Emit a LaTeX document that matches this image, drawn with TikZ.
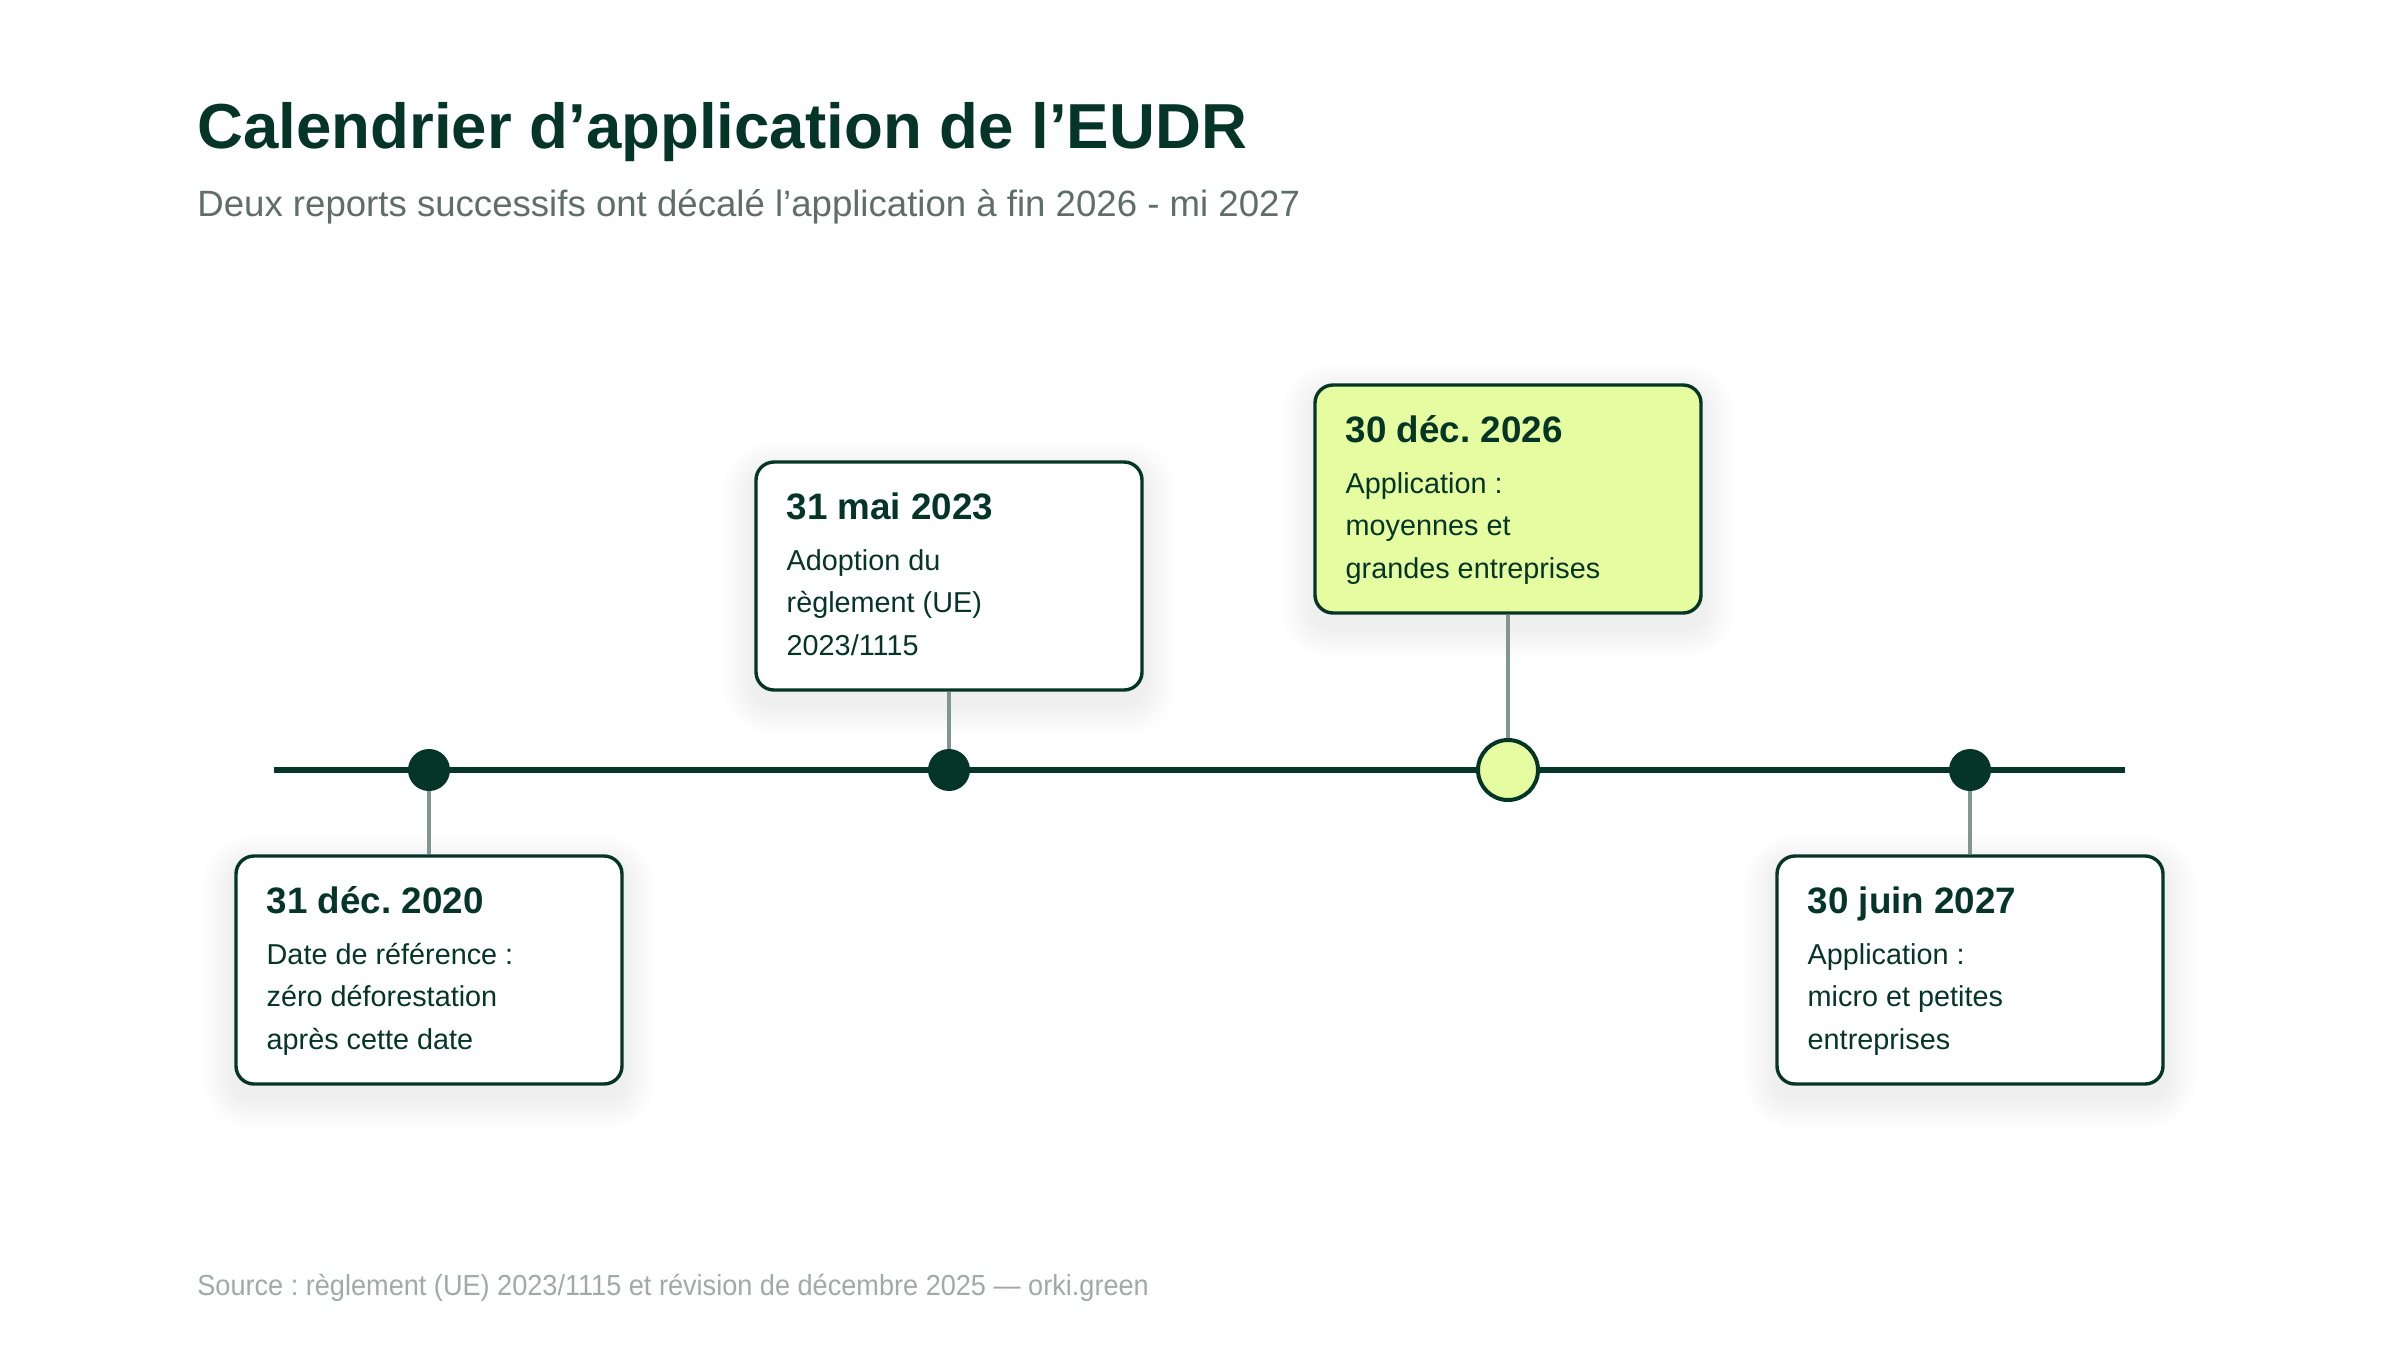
\documentclass[tikz,border=0pt]{standalone}
\usepackage{fontspec}
\setmainfont{Liberation Sans}
\newfontfamily\srcfont[FakeStretch=0.935]{Liberation Sans}
\usetikzlibrary{calc}
\definecolor{ink}{HTML}{053526}
\definecolor{lime}{HTML}{E5FCA0}
\definecolor{stem}{HTML}{7F9691}
\definecolor{subgray}{HTML}{5F6E69}
\definecolor{srcgray}{HTML}{A0AAA6}
\pgfdeclarelayer{paperlayer}
\pgfdeclarelayer{shadowlayer}
\pgfsetlayers{paperlayer,shadowlayer,main}
\tikzset{
  card/.style={draw=ink, line width=1.7pt, fill=white, rounded corners=9pt,
    minimum width=193pt, minimum height=114pt, inner sep=0pt},
  hotcard/.style={card, fill=lime},
  cardtitle/.style={anchor=base west, inner sep=0pt, text=ink, font=\fontsize{18.4pt}{22pt}\selectfont\bfseries},
  cardbody/.style={anchor=base west, inner sep=0pt, text=ink, font=\fontsize{14.4pt}{21.2pt}\selectfont},
  dot/.style={circle, fill=ink, minimum size=21pt, inner sep=0pt},
  bigdot/.style={circle, fill=lime, draw=ink, line width=2pt, minimum size=30pt, inner sep=0pt},
  stemline/.style={draw=stem, line width=1.9pt},
  axis/.style={draw=ink, line width=3pt},
  softshade/.style={fill=black, fill opacity=0.005, draw=none}
}
\newcommand{\bodylines}[1]{\parbox[t]{170pt}{\raggedright\fontsize{14.4pt}{21.2pt}\selectfont #1}}
\newcommand{\cardshadow}[1]{%
  \begin{pgfonlayer}{shadowlayer}
  \foreach \i in {1,...,16}{
    \path[softshade, rounded corners={(9+\i)*1pt}]
      ($(#1.north west)+(-2*\i,-2*\i+12)$) rectangle ($(#1.south east)+(2*\i,2*\i+12)$);
  }
  \end{pgfonlayer}}
\begin{document}
\frenchspacing
\begin{tikzpicture}[x=0.5pt,y=-0.5pt]
\begin{pgfonlayer}{paperlayer}
\fill[white] (0,0) rectangle (2400,1350);
\end{pgfonlayer}
\useasboundingbox (0,0) rectangle (2400,1350);

% header
\node[anchor=base west, inner sep=0pt, text=ink, font=\fontsize{31.8pt}{36pt}\selectfont\bfseries] (title) at (197,148) {Calendrier d’application de l’EUDR};
\node[anchor=base west, inner sep=0pt, text=subgray, font=\fontsize{18.3pt}{22pt}\selectfont] (subtitle) at (197,216) {Deux reports successifs ont décalé l’application à fin 2026 - mi 2027};

% cards
\node[card] (c1) at (429,970) {};
\node[card] (c2) at (949,576) {};
\node[hotcard] (c3) at (1508,499) {};
\node[card] (c4) at (1970,970) {};
\cardshadow{c1}
\cardshadow{c2}
\cardshadow{c3}
\cardshadow{c4}

% timeline
\coordinate (tl) at (274,770);
\coordinate (tr) at (2125,770);
\draw[axis] (tl) -- (tr);

\node[dot] (d1) at (429,770) {};
\node[dot] (d2) at (949,770) {};
\node[bigdot] (d3) at (1508,770) {};
\node[dot] (d4) at (1970,770) {};

\draw[stemline] (d1) -- (c1);
\draw[stemline] (d2) -- (c2);
\draw[stemline] (d3) -- (c3);
\draw[stemline] (d4) -- (c4);

% card texts
\node[cardtitle] (t1) at ($(c1.north west)+(32,59)$) {31 déc. 2020};
\node[cardbody] (b1) at ($(c1.north west)+(32,110)$) {\bodylines{Date de référence :\\zéro déforestation\\après cette date}};

\node[cardtitle] (t2) at ($(c2.north west)+(32,59)$) {31 mai 2023};
\node[cardbody] (b2) at ($(c2.north west)+(32,110)$) {\bodylines{Adoption du\\règlement (UE)\\2023/1115}};

\node[cardtitle] (t3) at ($(c3.north west)+(32,59)$) {30 déc. 2026};
\node[cardbody] (b3) at ($(c3.north west)+(32,110)$) {\bodylines{Application :\\moyennes et\\grandes entreprises}};

\node[cardtitle] (t4) at ($(c4.north west)+(32,59)$) {30 juin 2027};
\node[cardbody] (b4) at ($(c4.north west)+(32,110)$) {\bodylines{Application :\\micro et petites\\entreprises}};

% source
\node[anchor=base west, inner sep=0pt, text=srcgray, font=\srcfont\fontsize{14.5pt}{18pt}\selectfont] (source) at (197,1295) {Source : règlement (UE) 2023/1115 et révision de décembre 2025 — orki.green};
\end{tikzpicture}
\end{document}
